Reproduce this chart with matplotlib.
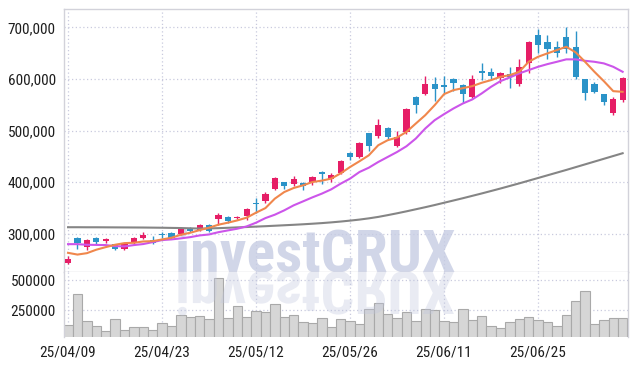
import matplotlib
matplotlib.use('Agg')
import matplotlib.pyplot as plt
from matplotlib import font_manager
from matplotlib.font_manager import FontProperties
from matplotlib.textpath import TextPath
from matplotlib.patches import PathPatch
from matplotlib.transforms import Affine2D, IdentityTransform

# ---------------- data ----------------
date_labels = ["25/04/09", "25/04/23", "25/05/12", "25/05/26", "25/06/11", "25/06/25"]
date_index = [0, 10, 20, 30, 40, 50]

opens = [243.7, 290.9, 274.0, 291.5, 285.6, 279.2, 270.1, 282.5, 291.5, 288.6,
         299.0, 302.2, 298.6, 311.7, 307.8, 316.1, 327.8, 331.6, 330.3, 334.2,
         360.2, 363.3, 387.4, 399.6, 395.7, 398.3, 400.2, 419.0, 405.4, 418.5,
         456.0, 448.7, 494.8, 488.9, 505.1, 470.1, 497.3, 564.7, 571.1, 589.9,
         588.0, 599.6, 588.0, 565.3, 615.7, 613.2, 602.1, 608.7, 589.3, 630.1,
         685.0, 671.5, 661.2, 680.6, 661.2, 599.0, 589.3, 569.9, 533.0, 558.3]
highs = [256.5, 292.8, 290.0, 293.0, 292.0, 280.5, 280.0, 293.0, 303.0, 296.0,
         303.0, 304.0, 314.0, 314.0, 318.5, 318.0, 340.0, 334.0, 334.0, 350.5,
         369.1, 380.0, 410.0, 401.0, 411.5, 400.0, 412.0, 421.0, 418.5, 442.0,
         458.0, 478.0, 496.0, 521.5, 507.0, 499.2, 544.0, 566.0, 605.4, 604.1,
         606.0, 601.0, 590.0, 607.4, 631.0, 620.3, 613.0, 623.5, 637.9, 673.0,
         695.9, 684.5, 673.4, 700.0, 693.4, 600.0, 594.5, 571.5, 565.3, 603.0]
lows = [241.0, 271.3, 267.6, 281.0, 282.0, 269.0, 267.6, 279.0, 290.0, 281.0,
        292.0, 290.0, 297.0, 303.0, 306.0, 303.0, 317.5, 321.0, 328.0, 326.0,
        340.8, 360.0, 385.0, 386.0, 393.0, 384.0, 395.0, 397.0, 400.2, 416.0,
        443.7, 447.0, 460.6, 486.0, 484.0, 468.0, 494.0, 533.0, 569.0, 557.5,
        571.8, 577.0, 553.0, 563.0, 597.0, 598.9, 591.2, 581.5, 587.0, 611.8,
        649.3, 637.9, 641.8, 649.3, 599.0, 558.5, 571.8, 550.3, 531.0, 556.0]
closes = [251.5, 281.8, 288.4, 283.1, 290.3, 270.9, 279.2, 291.5, 298.1, 282.5,
          298.0, 292.5, 309.6, 304.5, 317.5, 304.5, 335.5, 325.2, 333.0, 347.2,
          357.5, 376.9, 408.7, 391.8, 405.4, 392.4, 410.7, 415.7, 413.2, 440.4,
          448.2, 476.0, 469.6, 510.9, 487.6, 487.6, 542.0, 549.1, 589.9, 580.8,
          584.7, 592.5, 570.0, 599.6, 611.8, 606.0, 611.3, 604.1, 623.5, 671.5,
          665.6, 657.9, 649.5, 657.3, 604.1, 573.0, 575.0, 555.5, 560.8, 601.0]

ma_short = [263.0, 259.6, 262.3, 269.0, 274.0, 278.6, 281.8, 282.5, 285.0, 285.6,
            288.9, 292.2, 298.0, 301.9, 307.0, 311.7, 317.5, 321.4, 325.8, 331.1,
            340.8, 349.7, 368.0, 380.8, 388.6, 393.8, 400.2, 402.9, 406.8, 417.0,
            429.3, 440.4, 452.0, 471.5, 481.2, 486.4, 497.3, 513.6, 529.7, 549.1,
            570.5, 578.3, 582.1, 586.0, 592.5, 597.7, 604.1, 607.4, 613.8, 633.2,
            642.9, 649.5, 655.9, 662.3, 651.5, 633.2, 613.8, 595.7, 576.3, 575.0]
ma_mid = [279.8, 279.8, 278.6, 278.3, 278.0, 276.0, 275.4, 278.0, 280.0, 283.7,
          287.7, 289.0, 291.0, 293.4, 296.7, 298.6, 303.0, 306.4, 309.7, 314.2,
          321.4, 330.3, 336.9, 345.3, 355.0, 362.7, 370.5, 377.7, 386.0, 397.0,
          406.8, 419.6, 428.0, 439.0, 448.7, 458.4, 469.5, 484.5, 503.9, 520.0,
          531.7, 542.7, 552.4, 560.2, 571.8, 584.7, 595.7, 602.9, 610.7, 617.1,
          623.5, 628.7, 633.2, 637.9, 637.9, 635.1, 633.2, 630.1, 623.5, 613.8]
ma_long = [312.6, 312.6, 312.5, 312.5, 312.4, 312.3, 312.2, 312.1, 312.0, 311.8,
           311.6, 311.3, 311.0, 310.5, 310.0, 310.3, 310.8, 311.5, 312.3, 313.0,
           313.8, 314.6, 315.5, 316.4, 317.3, 318.3, 319.4, 320.6, 322.0, 323.6,
           325.4, 327.4, 329.8, 332.6, 336.0, 339.6, 343.4, 347.4, 351.4, 355.6,
           360.0, 364.4, 368.8, 373.4, 378.0, 382.8, 387.6, 392.6, 397.6, 402.8,
           408.0, 413.2, 418.4, 423.6, 429.0, 434.4, 439.8, 445.2, 450.6, 456.0]

volumes = [128.3, 386.7, 161.7, 120.0, 78.3, 178.3, 86.7, 111.7, 111.7, 86.7,
           145.0, 120.0, 211.7, 195.0, 203.3, 178.3, 520.0, 186.7, 286.7, 195.0,
           245.0, 236.7, 303.3, 195.0, 211.7, 153.3, 145.0, 186.7, 111.7, 178.3,
           161.7, 136.7, 261.7, 311.7, 220.0, 186.7, 236.7, 161.7, 261.7, 253.3,
           161.7, 153.3, 261.7, 170.0, 203.3, 120.0, 103.3, 153.3, 178.3, 195.0,
           170.0, 153.3, 120.0, 211.7, 328.3, 411.7, 136.7, 170.0, 186.7, 186.7]

price_ticks = [300000, 400000, 500000, 600000, 700000]
volume_ticks = [250000, 500000]
watermark = "investCRUX"

# ---------------- style ----------------
def pick(fams):
    for f in fams:
        try:
            font_manager.findfont(FontProperties(family=f), fallback_to_default=False)
            return f
        except Exception:
            pass
    return 'DejaVu Sans'

narrow = pick(['Liberation Sans Narrow', 'Roboto Condensed', 'Liberation Sans'])
plt.rcParams['font.family'] = [narrow, 'DejaVu Sans']

UP = '#e61e66'
DOWN = '#2b93c8'
GRID = '#c9cade'
SPINE = '#d2d2da'
TXT = '#1e1e1e'
W, H = 637, 366

fig = plt.figure(figsize=(W / 100, H / 100), dpi=100)
fig.patch.set_facecolor('white')
ax = fig.add_axes([64 / W, 94.5 / H, 564 / W, 262.5 / H])
axv = fig.add_axes([64 / W, 28.7 / H, 564 / W, 65.8 / H])

n = len(opens)
xs = list(range(n))

# price panel
for i in xs:
    o, h, l, c = [v * 1000 for v in (opens[i], highs[i], lows[i], closes[i])]
    col = UP if c >= o else DOWN
    ax.vlines(i, l, h, color=col, lw=1.0, zorder=3)
    body = max(abs(c - o), 1500)
    ax.bar(i, body, bottom=min(o, c), width=0.66, color=col, edgecolor='none', zorder=4)

ax.plot(xs, [v * 1000 for v in ma_long], color='#858585', lw=1.5, zorder=5)
ax.plot(xs, [v * 1000 for v in ma_mid], color='#cc55ea', lw=1.5, zorder=5)
ax.plot(xs, [v * 1000 for v in ma_short], color='#f0874c', lw=1.5, zorder=6)

ax.set_xlim(-0.43, 59.57)
ax.set_ylim(226800, 735500)
ax.set_yticks(price_ticks)
ax.set_yticklabels([f"{t:,}" for t in price_ticks])
ax.set_xticks(date_index)
ax.set_xticklabels([])
ax.grid(True, linestyle=(0, (1, 2)), color=GRID, lw=0.9, zorder=0)
ax.set_axisbelow(True)
ax.tick_params(length=0, pad=6, labelsize=11, labelcolor=TXT)
for s in ax.spines.values():
    s.set_color(SPINE)
    s.set_linewidth(1.0)

# watermark (real text) in the price panel
wm_size = 43
ax.text(175, 94.5, watermark, transform=IdentityTransform(), fontsize=wm_size,
        fontweight='bold', family=[narrow, 'DejaVu Sans'], color='#c6cce3', alpha=0.8,
        ha='left', va='baseline', zorder=1)

# volume panel
axv.bar(xs, [v * 1000 for v in volumes], width=1.0, color='#d6d6d6',
        edgecolor='#a9a9a9', linewidth=0.8, zorder=2)
axv.set_xlim(-0.43, 59.57)
axv.set_ylim(28300, 572500)
axv.set_yticks(volume_ticks)
axv.set_yticklabels([str(t) for t in volume_ticks])
axv.set_xticks(date_index)
axv.set_xticklabels(date_labels)
axv.grid(True, linestyle=(0, (1, 2)), color=GRID, lw=0.9, zorder=0)
axv.set_axisbelow(True)
axv.tick_params(length=0, pad=6, labelsize=11, labelcolor=TXT)
for k, s in axv.spines.items():
    s.set_color(SPINE)
    s.set_linewidth(1.0)
axv.spines['bottom'].set_visible(False)
axv.spines['top'].set_visible(False)

# mirrored reflection of the watermark below the separator
tp = TextPath((0, 0), watermark, size=wm_size * 100 / 72,
              prop=FontProperties(family=narrow, weight='bold'))
refl = PathPatch(tp, transform=Affine2D().scale(1, -1).translate(175, 94.5),
                 facecolor='#c0c6de', edgecolor='none', alpha=0.35, zorder=3)
axv.add_patch(refl)

fig.savefig('out.png', dpi=100)
